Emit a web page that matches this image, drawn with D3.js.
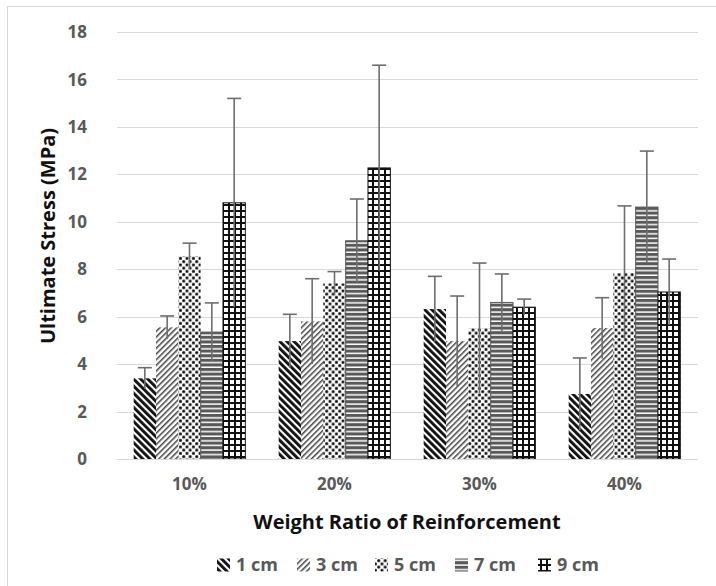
<!DOCTYPE html>
<html>
<head>
<meta charset="utf-8">
<script src="https://cdn.jsdelivr.net/npm/d3@7"></script>
<style>
  html, body { margin: 0; padding: 0; background: #fff; }
  svg { display: block; }
  text { font-family: "Open Sans", "Liberation Sans", sans-serif; }
</style>
</head>
<body>
<svg id="chart" width="716" height="586"></svg>
<script>
// ---- data ----
const categories = ["10%", "20%", "30%", "40%"];
const seriesNames = ["1 cm", "3 cm", "5 cm", "7 cm", "9 cm"];
const values1cm = [3.4, 4.97, 6.32, 2.74];
const values3cm = [5.55, 5.8, 4.97, 5.52];
const values5cm = [8.55, 7.4, 5.52, 7.84];
const values7cm = [5.35, 9.2, 6.6, 10.62];
const values9cm = [10.8, 12.27, 6.4, 7.04];
const err1cm = [0.45, 1.13, 1.38, 1.52];
const err3cm = [0.48, 1.8, 1.9, 1.28];
const err5cm = [0.55, 0.5, 2.74, 2.83];
const err7cm = [1.23, 1.76, 1.2, 2.36];
const err9cm = [4.4, 4.33, 0.34, 1.39];
const yTicks = [0, 2, 4, 6, 8, 10, 12, 14, 16, 18];
const yTitle = "Ultimate Stress (MPa)";
const xTitle = "Weight Ratio of Reinforcement";

const seriesValues = [values1cm, values3cm, values5cm, values7cm, values9cm];
const seriesErrors = [err1cm, err3cm, err5cm, err7cm, err9cm];
const patternIds = ["p1", "p3", "p5", "p7", "p9"];
const outline = [null, null, null, "#595959", "#111"];

const svg = d3.select("#chart");

// outer frame
svg.append("rect").attr("x", 7.5).attr("y", 6.5).attr("width", 720).attr("height", 600)
  .attr("fill", "#fff").attr("stroke", "#d9d9d9").attr("stroke-width", 1);

// ---- patterns ----
const defs = svg.append("defs");
let p = defs.append("pattern").attr("id", "p1").attr("patternUnits", "userSpaceOnUse")
  .attr("width", 5).attr("height", 5).attr("patternTransform", "rotate(-45)");
p.append("rect").attr("width", 5).attr("height", 5).attr("fill", "#fff");
p.append("rect").attr("width", 2.9).attr("height", 5).attr("fill", "#111");

p = defs.append("pattern").attr("id", "p3").attr("patternUnits", "userSpaceOnUse")
  .attr("width", 4).attr("height", 4).attr("patternTransform", "rotate(45)");
p.append("rect").attr("width", 4).attr("height", 4).attr("fill", "#fff");
p.append("rect").attr("width", 1.5).attr("height", 4).attr("fill", "#444");

p = defs.append("pattern").attr("id", "p5").attr("patternUnits", "userSpaceOnUse")
  .attr("width", 6.5).attr("height", 6.5);
p.append("rect").attr("width", 6.5).attr("height", 6.5).attr("fill", "#fff");
p.append("rect").attr("x", 0.3).attr("y", 0.3).attr("width", 2.8).attr("height", 2.8).attr("rx", 0.8).attr("fill", "#111");
p.append("rect").attr("x", 3.55).attr("y", 3.55).attr("width", 2.8).attr("height", 2.8).attr("rx", 0.8).attr("fill", "#111");

p = defs.append("pattern").attr("id", "p7").attr("patternUnits", "userSpaceOnUse")
  .attr("width", 6).attr("height", 4.6);
p.append("rect").attr("width", 6).attr("height", 4.6).attr("fill", "#fff");
p.append("rect").attr("width", 6).attr("height", 3.1).attr("fill", "#595959");

p = defs.append("pattern").attr("id", "p9").attr("patternUnits", "userSpaceOnUse")
  .attr("width", 6).attr("height", 6);
p.append("rect").attr("width", 6).attr("height", 6).attr("fill", "#fff");
p.append("rect").attr("width", 2).attr("height", 6).attr("fill", "#111");
p.append("rect").attr("width", 6).attr("height", 2).attr("fill", "#111");

// ---- scales ----
const x0 = d3.scaleBand().domain(categories).range([117, 697])
  .paddingInner(0.23).paddingOuter(0.115);
const x1 = d3.scaleBand().domain(seriesNames).range([0, x0.bandwidth()]).padding(0);
const y = d3.scaleLinear().domain([0, 18]).range([459, 32]);

// gridlines
svg.append("g").selectAll("line").data(yTicks).join("line")
  .attr("x1", 117).attr("x2", 698)
  .attr("y1", d => Math.round(y(d)) + 0.5).attr("y2", d => Math.round(y(d)) + 0.5)
  .attr("stroke", "#d9d9d9").attr("stroke-width", 1.2);

// y tick labels
svg.append("g").selectAll("text").data(yTicks).join("text")
  .attr("x", 87).attr("y", d => y(d)).attr("dy", "0.36em")
  .attr("text-anchor", "end").attr("font-size", 17).attr("font-weight", "bold")
  .attr("fill", "#595959").text(d => d);

// bars
const barsG = svg.append("g");
seriesNames.forEach((s, si) => {
  const g = barsG.append("g");
  g.selectAll("rect").data(categories).join("rect")
    .attr("x", c => x0(c) + x1(s))
    .attr("y", (c, i) => y(seriesValues[si][i]))
    .attr("width", x1.bandwidth())
    .attr("height", (c, i) => y(0) - y(seriesValues[si][i]))
    .attr("fill", `url(#${patternIds[si]})`)
    .attr("stroke", outline[si] || "none")
    .attr("stroke-width", outline[si] ? 1 : 0);
});

// error bars
const errG = svg.append("g").attr("stroke", "#6e6e6e").attr("stroke-width", 1.6);
seriesNames.forEach((s, si) => {
  categories.forEach((c, i) => {
    const cx = x0(c) + x1(s) + x1.bandwidth() / 2;
    const v = seriesValues[si][i], e = seriesErrors[si][i];
    errG.append("line").attr("x1", cx).attr("x2", cx)
      .attr("y1", y(v - e)).attr("y2", y(v + e));
    errG.append("line").attr("x1", cx - 7).attr("x2", cx + 7)
      .attr("y1", y(v + e)).attr("y2", y(v + e));
  });
});

// x axis line
svg.append("line").attr("x1", 117).attr("x2", 698).attr("y1", 459.5).attr("y2", 459.5)
  .attr("stroke", "#d9d9d9").attr("stroke-width", 1.2);

// x category labels
svg.append("g").selectAll("text").data(categories).join("text")
  .attr("x", c => x0(c) + x0.bandwidth() / 2).attr("y", 490)
  .attr("text-anchor", "middle").attr("font-size", 17).attr("font-weight", "bold")
  .attr("fill", "#595959").text(d => d);

// axis titles
svg.append("text").attr("x", 407).attr("y", 529).attr("text-anchor", "middle")
  .attr("font-size", 20).attr("font-weight", "bold").attr("fill", "#111").text(xTitle);
svg.append("text").attr("transform", "translate(55,236) rotate(-90)")
  .attr("text-anchor", "middle").attr("font-size", 20).attr("font-weight", "bold")
  .attr("fill", "#111").text(yTitle);

// legend
const legendX = [217, 297, 375, 455, 538];
const lg = svg.append("g");
seriesNames.forEach((s, si) => {
  lg.append("rect").attr("x", legendX[si]).attr("y", 558.5).attr("width", 13).attr("height", 13)
    .attr("fill", `url(#${patternIds[si]})`);
  lg.append("text").attr("x", legendX[si] + 19).attr("y", 565).attr("dy", "0.36em")
    .attr("font-size", 18).attr("font-weight", "bold").attr("fill", "#595959").text(s);
});
</script>
</body>
</html>
